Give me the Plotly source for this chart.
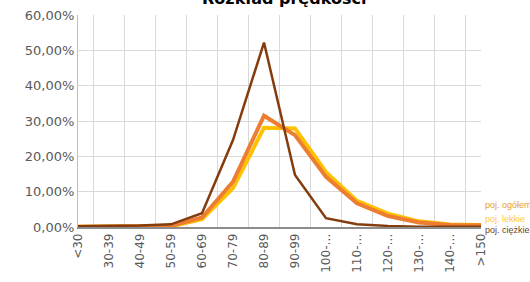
import plotly.graph_objects as go

categories = ["<30", "30-39", "40-49", "50-59", "60-69", "70-79", "80-89",
              "90-99", "100-…", "110-…", "120-…", "130-…", "140-…", ">150"]

# values as fractions (axis shown in %)
ogolem = [0.001, 0.001, 0.002, 0.003, 0.027, 0.128, 0.315, 0.260, 0.142, 0.067, 0.031, 0.013, 0.006, 0.005]
lekkie = [0.001, 0.001, 0.001, 0.002, 0.022, 0.110, 0.281, 0.279, 0.155, 0.074, 0.038, 0.016, 0.007, 0.006]
ciezkie = [0.002, 0.002, 0.004, 0.0075, 0.039, 0.246, 0.522, 0.147, 0.025, 0.008, 0.003, 0.001, 0.0005, 0.0005]

series_names = ["poj. ogółem", "poj. lekkie", "poj. ciężkie"]
line_colors = ["#ED7D31", "#FFC000", "#843C0C"]
label_colors = ["#E3A036", "#FFC845", "#6E4220"]
title_text = "Rozkład prędkości"

fig = go.Figure()
fig.add_trace(go.Scatter(x=categories, y=lekkie, mode="lines", name=series_names[1],
                         line=dict(color=line_colors[1], width=4), showlegend=False))
fig.add_trace(go.Scatter(x=categories, y=ogolem, mode="lines", name=series_names[0],
                         line=dict(color=line_colors[0], width=4), showlegend=False))
fig.add_trace(go.Scatter(x=categories, y=ciezkie, mode="lines", name=series_names[2],
                         line=dict(color=line_colors[2], width=2.5), showlegend=False))

# legend as coloured text
legend_y = [0.104, 0.040, -0.014]
for name, col, yy in zip(series_names, label_colors, legend_y):
    fig.add_annotation(text=name, x=1.005, y=yy, xref="paper", yref="paper",
                       xanchor="left", yanchor="middle", showarrow=False,
                       font=dict(family="Liberation Sans", size=9, color=col))

fig.add_annotation(text="<b>" + title_text + "</b>", x=0.51, y=1.022, xref="paper", yref="paper",
                   xanchor="center", yanchor="bottom", showarrow=False,
                   font=dict(family="DejaVu Sans", size=16, color="#000000"))

fig.update_layout(
    width=530, height=282,
    margin=dict(l=78, r=49, t=15, b=55),
    paper_bgcolor="white", plot_bgcolor="white",
    separators=", ",
    showlegend=False,
)
fig.update_xaxes(type="category", tickson="boundaries", showgrid=True, gridcolor="#D9D9D9",
                 gridwidth=1, ticks="", tickangle=-90, showline=True, linecolor="#8C8C8C",
                 linewidth=1.5, tickfont=dict(family="DejaVu Sans", size=12, color="#595959"),
                 mirror=False, zeroline=False, automargin=False, ticklabeloverflow="allow")
fig.update_yaxes(range=[0, 0.6], dtick=0.1, tickformat=".2%", showgrid=True, gridcolor="#D9D9D9",
                 gridwidth=1, showline=True, linecolor="#BFBFBF", linewidth=1, zeroline=False,
                 tickfont=dict(family="DejaVu Sans", size=13, color="#595959"), ticks="",
                 automargin=False, ticklabeloverflow="allow")

fig.write_html("out.html", config={"displayModeBar": False},
               post_script="document.body.style.margin='0';")
